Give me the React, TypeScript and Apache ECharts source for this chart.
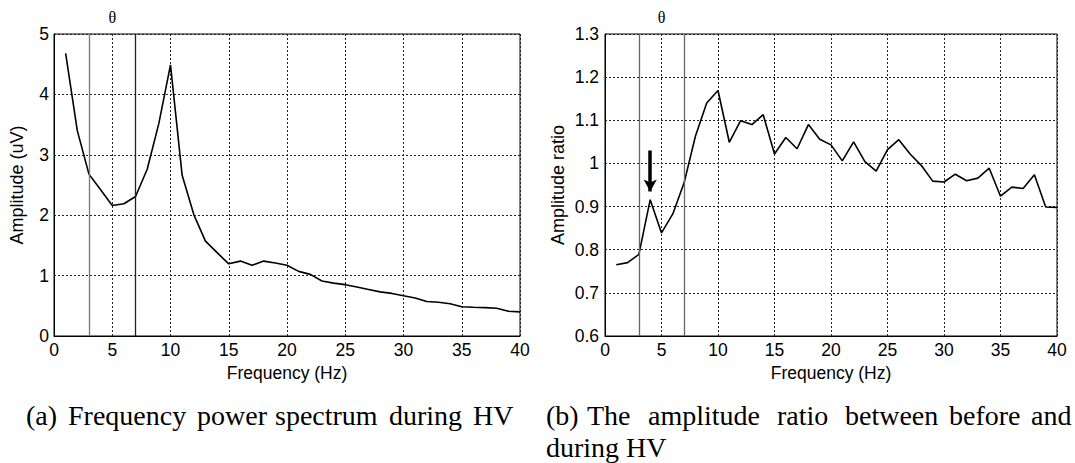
import React, { useEffect, useRef } from "react";
import * as echarts from "echarts";

const freqs: number[] = Array.from({ length: 40 }, (_, i) => i + 1);

const amplitudeUV: number[] = [
  4.68, 3.4, 2.68, 2.42, 2.16, 2.19, 2.31, 2.76, 3.52, 4.49,
  2.66, 2.01, 1.57, 1.38, 1.195, 1.24, 1.17, 1.24, 1.21, 1.17,
  1.07, 1.02, 0.91, 0.875, 0.85, 0.81, 0.77, 0.73, 0.705, 0.665,
  0.63, 0.57, 0.56, 0.535, 0.485, 0.475, 0.47, 0.46, 0.41, 0.4,
];

const amplitudeRatio: number[] = [
  0.765, 0.77, 0.789, 0.916, 0.839, 0.883, 0.955, 1.063, 1.14, 1.169,
  1.049, 1.099, 1.09, 1.113, 1.022, 1.06, 1.034, 1.09, 1.056, 1.043,
  1.006, 1.05, 1.004, 0.982, 1.032, 1.055, 1.022, 0.995, 0.959, 0.957,
  0.975, 0.96, 0.966, 0.989, 0.924, 0.945, 0.942, 0.974, 0.899, 0.898,
];

const thetaBand: number[] = [3, 7];
const arrowFrom: [number, number] = [4, 1.03];
const arrowTo: [number, number] = [4, 0.935];

// caption words (LaTeX-justified layout), with the x where each word starts
const captionAWords: string[] = ["(a)", "Frequency", "power", "spectrum", "during", "HV"];
const captionAStarts: number[] = [26, 68, 197, 275, 389, 473];
const captionBWords: string[] = ["(b)", "The", "amplitude", "ratio", "between", "before", "and"];
const captionBStarts: number[] = [546, 587, 648, 777, 845, 949, 1031];
const captionB2 = "during HV";

const SANS = "Liberation Sans, Arial, sans-serif";
const SERIF = "Liberation Serif, Times New Roman, serif";

export default function App() {
  const ref = useRef<HTMLDivElement>(null);
  useEffect(() => {
    if (!ref.current) return;
    const chart = echarts.init(ref.current, undefined, { renderer: "svg" });
    const grids = [
      { left: 54, top: 34, width: 466, height: 302 },
      { left: 605, top: 34, width: 452, height: 302 },
    ];
    const FS = 17.5;
    const split = { show: true, lineStyle: { color: "#222", type: [2, 2], width: 1 } };
    const xAxisBase = (gi: number) => ({
      type: "value" as const,
      gridIndex: gi,
      min: 0,
      max: 40,
      interval: 5,
      name: "Frequency (Hz)",
      nameLocation: "middle" as const,
      nameGap: 23,
      nameTextStyle: { fontFamily: SANS, fontSize: FS, color: "#000" },
      axisLine: { show: true, lineStyle: { color: "#000", width: 1 } },
      axisTick: { show: false },
      axisLabel: { fontFamily: SANS, fontSize: FS, color: "#000", margin: 5 },
      splitLine: split,
    });
    const vlines = (colors: string[]) => ({
      silent: true,
      symbol: "none",
      label: { show: false },
      data: thetaBand.map((v, i) => ({
        xAxis: v,
        lineStyle: { color: colors[i], type: "solid", width: 1.3 },
      })),
    });
    const thetaX = (g: { left: number; width: number }) => g.left + (5 / 40) * g.width;
    const capStyle = { fontFamily: SERIF, fontSize: 28, fill: "#000", align: "left", verticalAlign: "middle" };
    const captionGraphics = [
      ...captionAWords.map((w, i) => ({ type: "text", x: captionAStarts[i], y: 415, style: { ...capStyle, text: w } })),
      ...captionBWords.map((w, i) => ({ type: "text", x: captionBStarts[i], y: 415, style: { ...capStyle, text: w } })),
      { type: "text", x: captionBStarts[0], y: 447, style: { ...capStyle, text: captionB2 } },
    ];
    chart.setOption({
      animation: false,
      backgroundColor: "#fff",
      grid: grids.map((g) => ({ ...g, show: true, borderColor: "#000", borderWidth: 1, backgroundColor: "transparent" })),
      xAxis: [xAxisBase(0), xAxisBase(1)],
      yAxis: [
        {
          type: "value",
          gridIndex: 0,
          min: 0,
          max: 5,
          interval: 1,
          name: "Amplitude (uV)",
          nameLocation: "middle",
          nameGap: 28,
          nameTextStyle: { fontFamily: SANS, fontSize: 18, color: "#000" },
          axisLine: { show: true, lineStyle: { color: "#000" } },
          axisTick: { show: false },
          axisLabel: { fontFamily: SANS, fontSize: FS, color: "#000", margin: 5 },
          splitLine: split,
        },
        {
          type: "value",
          gridIndex: 1,
          min: 0.6,
          max: 1.3,
          interval: 0.1,
          name: "Amplitude ratio",
          nameLocation: "middle",
          nameGap: 38,
          nameTextStyle: { fontFamily: SANS, fontSize: 18, color: "#000" },
          axisLine: { show: true, lineStyle: { color: "#000" } },
          axisTick: { show: false },
          axisLabel: {
            fontFamily: SANS,
            fontSize: FS,
            color: "#000",
            margin: 6,
            formatter: (v: number) => String(+v.toFixed(1)),
          },
          splitLine: split,
        },
      ],
      series: [
        {
          type: "line",
          xAxisIndex: 0,
          yAxisIndex: 0,
          data: freqs.map((f, i) => [f, amplitudeUV[i]]),
          showSymbol: false,
          lineStyle: { color: "#000", width: 1.6 },
          markLine: vlines(["#777", "#222"]),
        },
        {
          type: "line",
          xAxisIndex: 1,
          yAxisIndex: 1,
          data: freqs.map((f, i) => [f, amplitudeRatio[i]]),
          showSymbol: false,
          lineStyle: { color: "#000", width: 1.6 },
          markLine: vlines(["#666", "#666"]),
        },
        {
          type: "line",
          xAxisIndex: 1,
          yAxisIndex: 1,
          data: [],
          markLine: {
            silent: true,
            symbol: ["none", "arrow"],
            symbolSize: [10, 12],
            label: { show: false },
            lineStyle: { color: "#000", type: "solid", width: 3.5 },
            data: [[{ coord: arrowFrom }, { coord: arrowTo }]],
          },
        },
      ],
      graphic: [
        {
          type: "text",
          x: thetaX(grids[0]),
          y: 17,
          style: { text: "θ", fontFamily: SERIF, fontSize: 16, fill: "#000", align: "center", verticalAlign: "middle" },
        },
        {
          type: "text",
          x: thetaX(grids[1]),
          y: 17,
          style: { text: "θ", fontFamily: SERIF, fontSize: 16, fill: "#000", align: "center", verticalAlign: "middle" },
        },
        ...captionGraphics,
      ],
    });
    return () => chart.dispose();
  }, []);
  return (
    <div
      ref={ref}
      style={{ position: "fixed", left: 0, top: 0, width: 1075, height: 463, background: "#fff" }}
    />
  );
}
